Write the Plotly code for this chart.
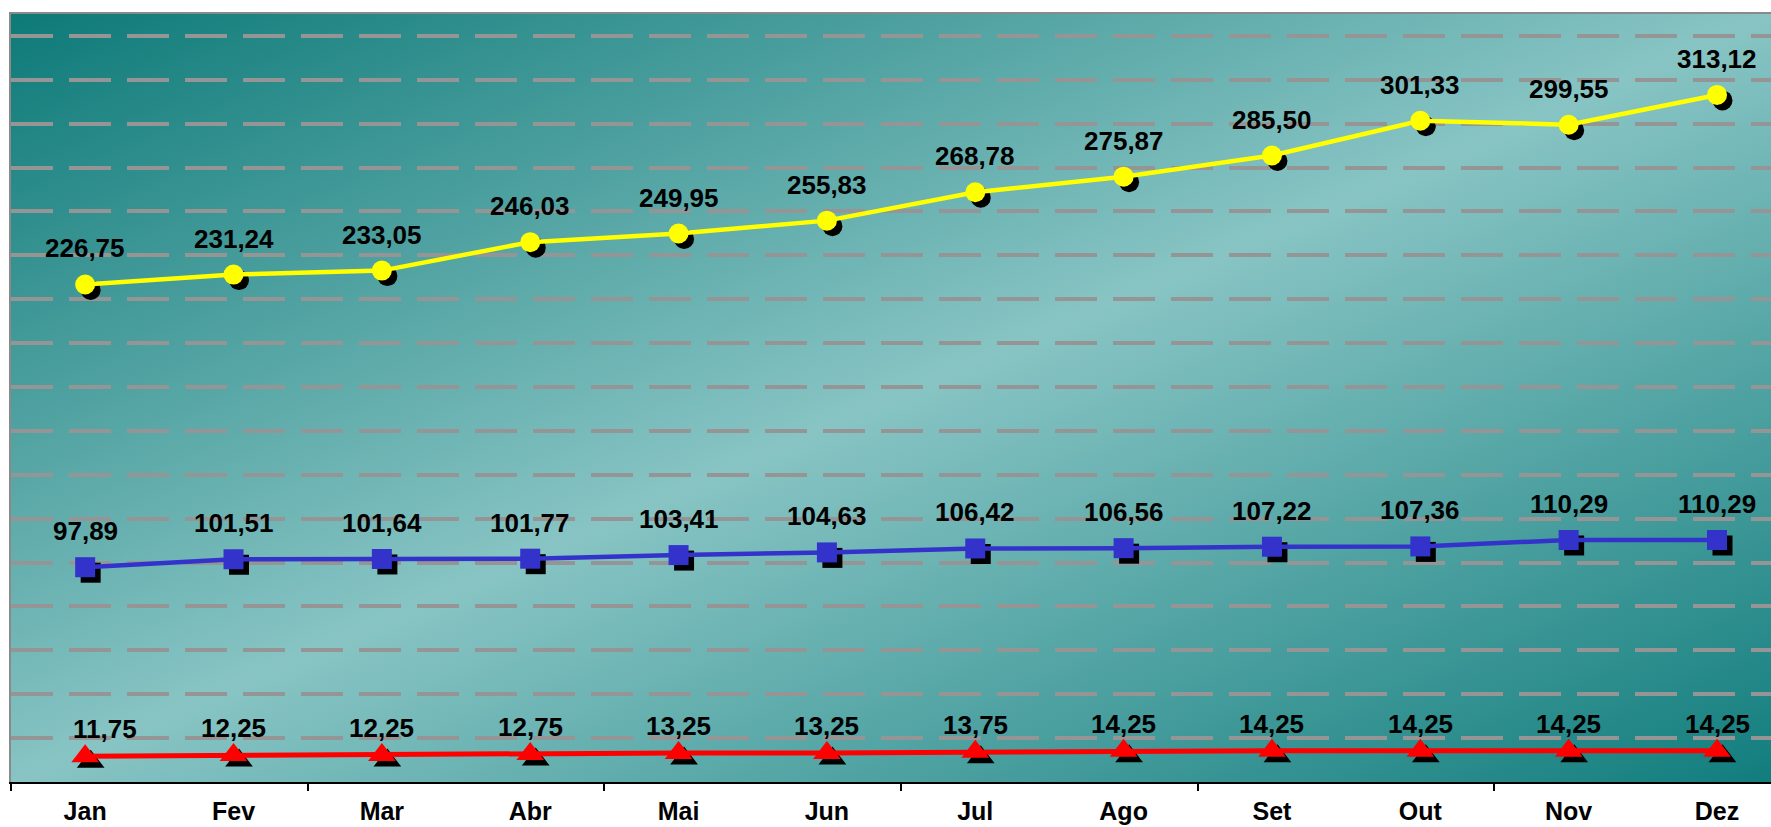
import base64
import plotly.graph_objects as go

# ---------------- data ----------------
months = ["Jan", "Fev", "Mar", "Abr", "Mai", "Jun", "Jul", "Ago", "Set", "Out", "Nov", "Dez"]
yellow_vals = [226.75, 231.24, 233.05, 246.03, 249.95, 255.83, 268.78, 275.87, 285.50, 301.33, 299.55, 313.12]
blue_vals = [97.89, 101.51, 101.64, 101.77, 103.41, 104.63, 106.42, 106.56, 107.22, 107.36, 110.29, 110.29]
red_vals = [11.75, 12.25, 12.25, 12.75, 13.25, 13.25, 13.75, 14.25, 14.25, 14.25, 14.25, 14.25]
grid_vals = list(range(20, 341, 20))
y_range = [0, 350]

# ---------------- style / geometry ----------------
W, H = 1771, 827
M_L, M_R, M_T, M_B = 11, 0, 14, 45
x_range = [-0.5, 11.364]
SHADOW_PX = 5.5
FONT = "Liberation Sans, Arial, sans-serif"

plot_w = W - M_L - M_R
plot_h = H - M_T - M_B
px_per_cat = plot_w / (x_range[1] - x_range[0])
px_per_unit = plot_h / (y_range[1] - y_range[0])
dx = SHADOW_PX / px_per_cat
dy = SHADOW_PX / px_per_unit
shadow_x_range = [x_range[0] - dx, x_range[1] - dx]
shadow_y_range = [y_range[0] + dy, y_range[1] + dy]
cat_index = list(range(len(months)))
boundary_ticks = [i - 0.5 for i in range(0, len(months), 2)]

series = [
    dict(vals=yellow_vals, color="#ffff00", symbol="circle", size=20, width=4.5,
         label_shift=36, label_xshift=[0] * 12),
    dict(vals=blue_vals, color="#3333cc", symbol="square", size=20, width=4.5,
         label_shift=36, label_xshift=[0] * 12),
    dict(vals=red_vals, color="#ff0000", symbol="triangle-up", size=24, width=5,
         label_shift=27, label_xshift=[20] + [0] * 11),
]

fig = go.Figure()

# helpers on the base subplots (give the base axes their categories / range; draw nothing)
fig.add_trace(go.Scatter(x=months, y=yellow_vals, mode="none", hoverinfo="skip", showlegend=False))
fig.add_trace(go.Scatter(x=cat_index, y=yellow_vals, mode="none", xaxis="x4", yaxis="y",
                         hoverinfo="skip", showlegend=False))

# shadows (offset axes)
for s in series:
    fig.add_trace(go.Scatter(
        x=months, y=s["vals"], mode="markers", xaxis="x2", yaxis="y2",
        marker=dict(symbol=s["symbol"], size=s["size"], color="black", line=dict(width=0)),
        hoverinfo="skip", showlegend=False,
    ))

# data series
annotations = []
for s in series:
    fig.add_trace(go.Scatter(
        x=months, y=s["vals"], mode="lines+markers", xaxis="x3", yaxis="y3",
        line=dict(color=s["color"], width=s["width"]),
        marker=dict(symbol=s["symbol"], size=s["size"], color=s["color"], line=dict(width=0)),
        showlegend=False,
    ))
    for m, v, xs in zip(months, s["vals"], s["label_xshift"]):
        annotations.append(dict(
            x=m, y=v, xref="x3", yref="y3", text=f"{v:.2f}".replace(".", ","),
            showarrow=False, xanchor="center", yanchor="middle",
            yshift=s["label_shift"], xshift=xs,
            font=dict(family=FONT, size=26, color="black", weight="bold"),
        ))

svg = (
    '<svg xmlns="http://www.w3.org/2000/svg" width="100" height="100" viewBox="0 0 100 100" '
    'preserveAspectRatio="none"><defs><linearGradient id="g" x1="0" y1="0" x2="1" y2="1">'
    '<stop offset="0" stop-color="#0d7a78"/><stop offset="0.5" stop-color="#88c4c4"/>'
    '<stop offset="1" stop-color="#127d7d"/></linearGradient></defs>'
    '<rect width="100" height="100" fill="url(#g)"/></svg>'
)
bg_src = "data:image/svg+xml;base64," + base64.b64encode(svg.encode()).decode()

fig.update_layout(
    width=W, height=H,
    margin=dict(l=M_L, r=M_R, t=M_T, b=M_B, pad=0),
    paper_bgcolor="white", plot_bgcolor="rgba(0,0,0,0)",
    showlegend=False,
    font=dict(family=FONT, color="black"),
    annotations=annotations,
    images=[dict(source=bg_src, xref="paper", yref="paper", x=0, y=1, sizex=1, sizey=1,
                 xanchor="left", yanchor="top", sizing="stretch", layer="below")],
    xaxis=dict(type="category", categoryorder="array", categoryarray=months, range=x_range,
               showgrid=False, zeroline=False, ticks="", showline=True, linecolor="black",
               linewidth=1.5, tickfont=dict(family=FONT, size=25, color="black", weight="bold"),
               ticklabelstandoff=6),
    yaxis=dict(range=y_range, tickvals=grid_vals, showticklabels=False, ticks="",
               showgrid=True, gridcolor="#959595", gridwidth=4, griddash="42px,16px",
               zeroline=False, showline=True, linecolor="#8a8a8a", linewidth=2),
    xaxis2=dict(type="category", categoryorder="array", categoryarray=months,
                range=shadow_x_range, overlaying="x", anchor="y2", side="top",
                showgrid=False, zeroline=False, ticks="", showticklabels=False,
                showline=True, linecolor="#8a8a8a", linewidth=2),
    yaxis2=dict(range=shadow_y_range, overlaying="y", anchor="x2", visible=False),
    xaxis3=dict(type="category", categoryorder="array", categoryarray=months,
                range=x_range, overlaying="x", anchor="y3", visible=False),
    yaxis3=dict(range=y_range, overlaying="y", anchor="x3", visible=False),
    xaxis4=dict(range=x_range, overlaying="x", anchor="y", side="bottom",
                tickvals=boundary_ticks, ticks="outside", ticklen=8, tickwidth=1.5,
                tickcolor="black", showticklabels=False, showgrid=False, zeroline=False,
                showline=False),
)

fig.write_html("out.html", config={"displayModeBar": False},
               post_script="document.body.style.margin='0px';")
